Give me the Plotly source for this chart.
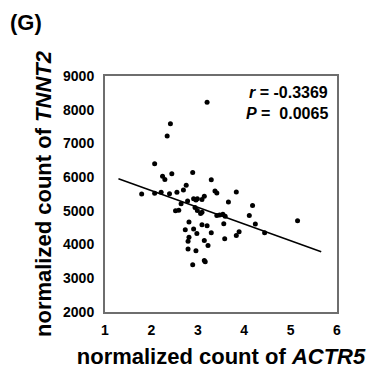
import plotly.graph_objects as go

actr5 = [1.79, 2.07, 2.07, 2.21, 2.24, 2.29, 2.34, 2.41, 2.39, 2.44, 2.55, 2.52, 2.59, 2.64,
         2.69, 2.75, 2.78, 2.81, 2.73, 2.81, 2.79, 2.79, 2.89, 2.91, 2.96, 2.99, 2.94, 2.99,
         2.91, 2.98, 2.89, 2.96, 3.06, 3.09, 3.14, 3.09, 3.09, 3.20, 3.14, 3.22, 3.14, 3.16,
         3.20, 3.29, 3.29, 3.37, 3.41, 3.41, 3.47, 3.54, 3.59, 3.56, 3.58, 3.66, 3.83, 3.89,
         3.83, 4.18, 4.11, 4.24, 4.44, 5.15]
tnnt2 = [5500, 6400, 5520, 5550, 6030, 5930, 7220, 7580, 5510, 6100, 5550, 5000, 5020, 5210,
         5620, 5760, 5290, 4670, 4440, 4220, 4100, 3870, 6140, 5360, 5320, 5360, 5100, 5010,
         4460, 4330, 3400, 3820, 4920, 5340, 5430, 4960, 4590, 4560, 4120, 3970, 3530, 3490,
         8220, 5920, 4350, 5590, 5530, 4860, 4880, 4900, 4840, 4620, 4170, 5260, 5560, 4380,
         4270, 5160, 4860, 4610, 4350, 4710]

fit_x = [1.29, 5.66]
fit_y = [5950, 3785]

x_ticks = [1, 2, 3, 4, 5, 6]
y_ticks = [2000, 3000, 4000, 5000, 6000, 7000, 8000, 9000]

FONT = "Liberation Sans, Arial, sans-serif"

fig = go.Figure()
fig.add_trace(go.Scatter(x=fit_x, y=fit_y, mode="lines",
                         line=dict(color="black", width=1.5), hoverinfo="skip"))
fig.add_trace(go.Scatter(x=actr5, y=tnnt2, mode="markers",
                         marker=dict(color="black", size=5)))

axis_common = dict(showline=True, linecolor="#6e6e6e", linewidth=2, mirror=True,
                   showgrid=False, zeroline=False, ticks="outside", automargin=False,
                   tickcolor="rgba(0,0,0,0)",
                   tickfont=dict(family=FONT, size=14, color="black", weight="bold"))

fig.update_layout(
    width=370, height=370,
    margin=dict(l=105, r=33, t=76, b=58),
    paper_bgcolor="white", plot_bgcolor="white",
    showlegend=False,
    xaxis=dict(range=[1, 6], tickvals=x_ticks, ticklen=4, **axis_common,
               title=dict(text="normalized count of <i>ACTR5</i>", standoff=12,
                          font=dict(family=FONT, size=22, color="black", weight="bold"))),
    yaxis=dict(range=[2000, 9000], tickvals=y_ticks, ticklen=6, **axis_common,
               title=dict(text="normalized count of <i>TNNT2</i>", standoff=5,
                          font=dict(family=FONT, size=22, color="black", weight="bold"))),
    annotations=[
        dict(text="(G)", x=-97/232, y=1 + (76 - 23)/236, xref="paper", yref="paper",
             xanchor="left", yanchor="middle", showarrow=False,
             font=dict(family=FONT, size=22, color="black", weight="bold")),
        dict(text="<i>r</i> = -0.3369", x=0.97, y=0.928, xref="paper", yref="paper",
             xanchor="right", yanchor="middle", showarrow=False,
             font=dict(family=FONT, size=16, color="black", weight="bold")),
        dict(text="<i>P</i> =  0.0065", x=0.97, y=0.84, xref="paper", yref="paper",
             xanchor="right", yanchor="middle", showarrow=False,
             font=dict(family=FONT, size=16, color="black", weight="bold")),
    ],
)

fig.write_html("out.html")
